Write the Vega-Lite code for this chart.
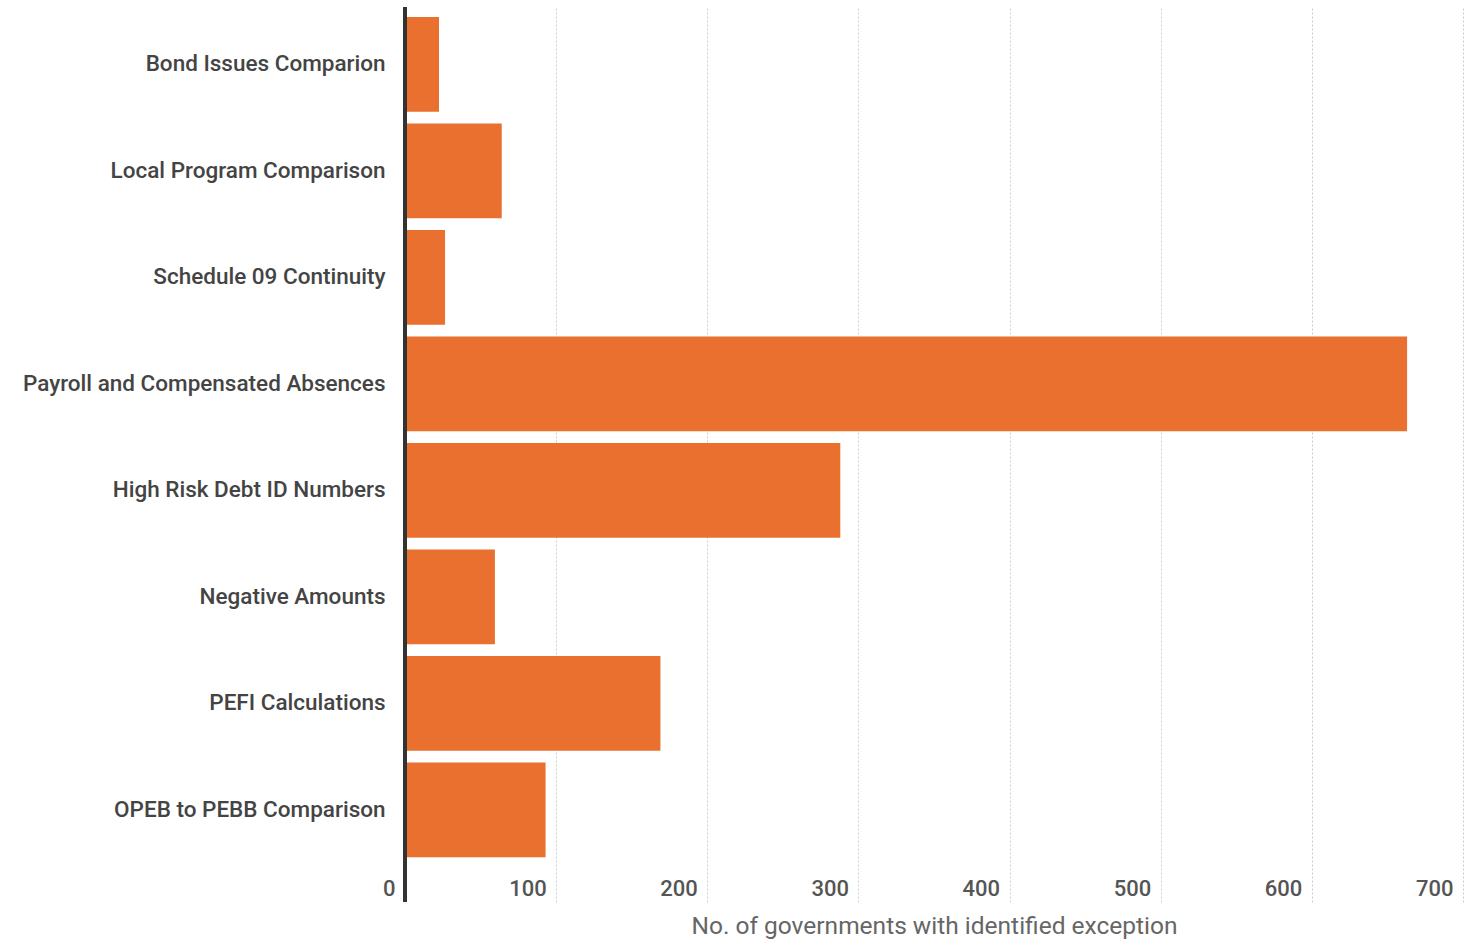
{
  "$schema": "https://vega.github.io/schema/vega-lite/v6.json",
  "autosize": {"type": "none"},
  "padding": {"left": 405, "top": 7, "right": 4, "bottom": 39},
  "width": 1058,
  "height": 895,
  "background": "white",
  "config": {"view": {"stroke": null}, "font": "Roboto"},
  "data": {"values": [
    {"check": "Bond Issues Comparion", "count": 22.5},
    {"check": "Local Program Comparison", "count": 64},
    {"check": "Schedule 09 Continuity", "count": 26.5},
    {"check": "Payroll and Compensated Absences", "count": 663},
    {"check": "High Risk Debt ID Numbers", "count": 288},
    {"check": "Negative Amounts", "count": 59.5},
    {"check": "PEFI Calculations", "count": 169},
    {"check": "OPEB to PEBB Comparison", "count": 93}
  ]},
  "layer": [
    {
      "mark": {"type": "bar", "color": "#E9702F"},
      "encoding": {
        "y": {
          "field": "check", "type": "nominal", "sort": null,
          "scale": {"paddingInner": 0.11, "paddingOuter": 0.257, "align": 0.183},
          "axis": {
            "title": null, "domain": false, "ticks": false, "labelPadding": 20,
            "labelFont": "Roboto", "labelFontSize": 22.5, "labelFontWeight": 500,
            "labelColor": "#444444", "labelLimit": 500
          }
        },
        "x": {
          "field": "count", "type": "quantitative",
          "scale": {"domain": [0, 700], "nice": false},
          "axis": {
            "values": [0, 100, 200, 300, 400, 500, 600, 700],
            "title": "No. of governments with identified exception",
            "titleFont": "Roboto", "titleFontSize": 24.5, "titleFontWeight": "normal",
            "titleColor": "#666666", "titleBaseline": "middle", "titleY": 24,
            "domain": false, "ticks": false,
            "labelAlign": "right", "labelBaseline": "middle", "labelPadding": -14,
            "labelOffset": -10,
            "labelFont": "Roboto", "labelFontSize": 22, "labelFontWeight": 500,
            "labelColor": "#555555",
            "grid": true, "gridColor": "#cccccc", "gridDash": [2, 2], "gridWidth": 1
          }
        }
      }
    },
    {
      "mark": {"type": "rule", "color": "#333333", "strokeWidth": 3},
      "encoding": {"x": {"datum": 0}}
    }
  ]
}
